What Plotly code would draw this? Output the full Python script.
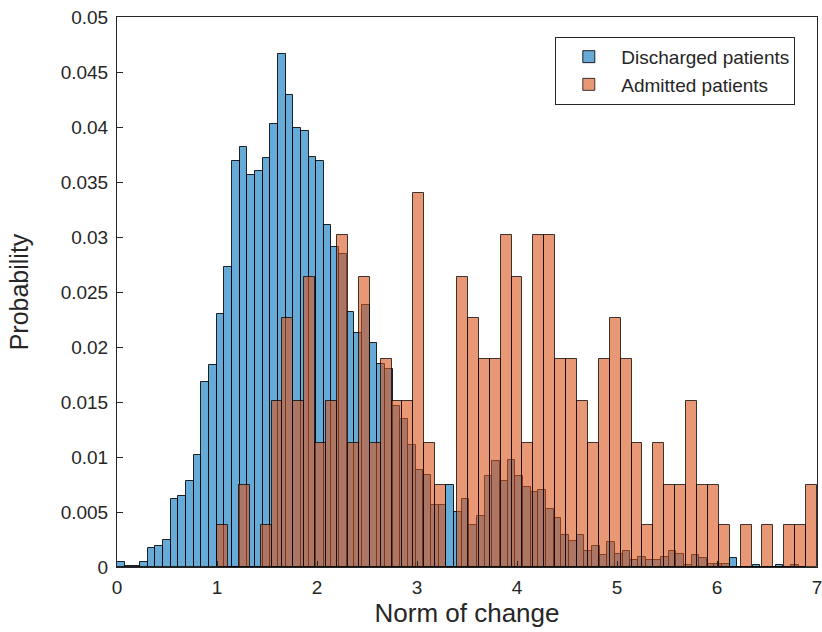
import plotly.graph_objects as go

# ---- data ----
discharged_bin_start = 0.0
discharged_bin_width = 0.0766
discharged_probability = [
    0.0005, 0.0001, 0.0001, 0.0005, 0.0017, 0.0019, 0.0025, 0.0062, 0.0065, 0.0078,
    0.0102, 0.0168, 0.0184, 0.0230, 0.0273, 0.0369, 0.0382, 0.0356, 0.0360, 0.0372,
    0.0403, 0.0466, 0.0429, 0.0399, 0.0396, 0.0373, 0.0369, 0.0311, 0.0291, 0.0285,
    0.0232, 0.0213, 0.0238, 0.0204, 0.0185, 0.0180, 0.0146, 0.0135, 0.0111, 0.0088,
    0.0084, 0.0056, 0.0056, 0.0075, 0.0050, 0.0062, 0.0038, 0.0046, 0.0083, 0.0096,
    0.0078, 0.0097, 0.0083, 0.0073, 0.0068, 0.0070, 0.0053, 0.0045, 0.0029, 0.0024,
    0.0029, 0.0015, 0.0019, 0.0011, 0.0023, 0.0012, 0.0015, 0.0006, 0.0009, 0.0006,
    0.0006, 0.0009, 0.0015, 0.0012, 0.0002, 0.0011, 0.0008, 0.0003, 0.0003, 0.0003,
    0.0008, 0.0, 0.0, 0.0002, 0.0, 0.0, 0.0002, 0.0, 0.0002, 0.0,
]

admitted_bin_start = 1.0
admitted_bin_width = 6.0 / 55
admitted_probability = [
    0.0038, 0.0, 0.0075, 0.0, 0.0038, 0.0151, 0.0226, 0.0151, 0.0264, 0.0113,
    0.0151, 0.0302, 0.0113, 0.0264, 0.0113, 0.0189, 0.0151, 0.0151, 0.0340, 0.0113,
    0.0075, 0.0, 0.0264, 0.0226, 0.0189, 0.0189, 0.0302, 0.0264, 0.0113, 0.0302,
    0.0302, 0.0189, 0.0189, 0.0151, 0.0113, 0.0189, 0.0226, 0.0189, 0.0113, 0.0038,
    0.0113, 0.0075, 0.0075, 0.0151, 0.0075, 0.0075, 0.0038, 0.0, 0.0038, 0.0,
    0.0038, 0.0, 0.0038, 0.0038, 0.0075,
]

x_ticks = [0, 1, 2, 3, 4, 5, 6, 7]
y_ticks = [0, 0.005, 0.01, 0.015, 0.02, 0.025, 0.03, 0.035, 0.04, 0.045, 0.05]
y_tick_labels = ["0", "0.005", "0.01", "0.015", "0.02", "0.025", "0.03",
                 "0.035", "0.04", "0.045", "0.05"]

series_names = ["Discharged patients", "Admitted patients"]


def centers(start, width, n):
    return [start + (i + 0.5) * width for i in range(n)]


FONT = "Liberation Sans, Arial, sans-serif"

fig = go.Figure()
fig.add_trace(go.Bar(
    x=centers(discharged_bin_start, discharged_bin_width, len(discharged_probability)),
    y=discharged_probability,
    width=discharged_bin_width,
    name=series_names[0],
    marker=dict(color="rgba(0,114,189,0.6)",
                line=dict(color="rgba(0,0,0,0.85)", width=1)),
))
fig.add_trace(go.Bar(
    x=centers(admitted_bin_start, admitted_bin_width, len(admitted_probability)),
    y=admitted_probability,
    width=admitted_bin_width,
    name=series_names[1],
    marker=dict(color="rgba(217,83,25,0.6)",
                line=dict(color="rgba(0,0,0,0.75)", width=1)),
))

axis_common = dict(
    showline=True, mirror=True, linecolor="#262626", linewidth=1,
    ticks="inside", ticklen=6, tickcolor="#262626",
    showgrid=False, zeroline=False, automargin=False,
    ticklabeloverflow="allow",
    tickfont=dict(family=FONT, size=19, color="#262626"),
)

fig.update_layout(
    width=822, height=632,
    margin=dict(l=117, r=5, t=17, b=65),
    paper_bgcolor="white", plot_bgcolor="white",
    barmode="overlay", bargap=0,
    font=dict(family=FONT, color="#262626"),
    xaxis=dict(range=[0, 7], tickvals=x_ticks, ticktext=[str(t) for t in x_ticks],
               ticklabelstandoff=3,
               title=dict(text="Norm of change", font=dict(family=FONT, size=26), standoff=4),
               **axis_common),
    yaxis=dict(range=[0, 0.05], tickvals=y_ticks, ticktext=y_tick_labels,
               ticklabelstandoff=4,
               title=dict(text="Probability", font=dict(family=FONT, size=25), standoff=24),
               **axis_common),
    legend=dict(x=0.969, y=0.964, xanchor="right", yanchor="top",
                bgcolor="white", bordercolor="#262626", borderwidth=1,
                font=dict(family=FONT, size=19, color="#262626"),
                itemwidth=55, tracegroupgap=0),
    showlegend=True,
)

# remove the default page margin so the 822x632 figure fills the window exactly
fig.write_html("out.html",
               config={"displayModeBar": False},
               post_script="document.body.style.margin='0';document.body.style.overflow='hidden';")
